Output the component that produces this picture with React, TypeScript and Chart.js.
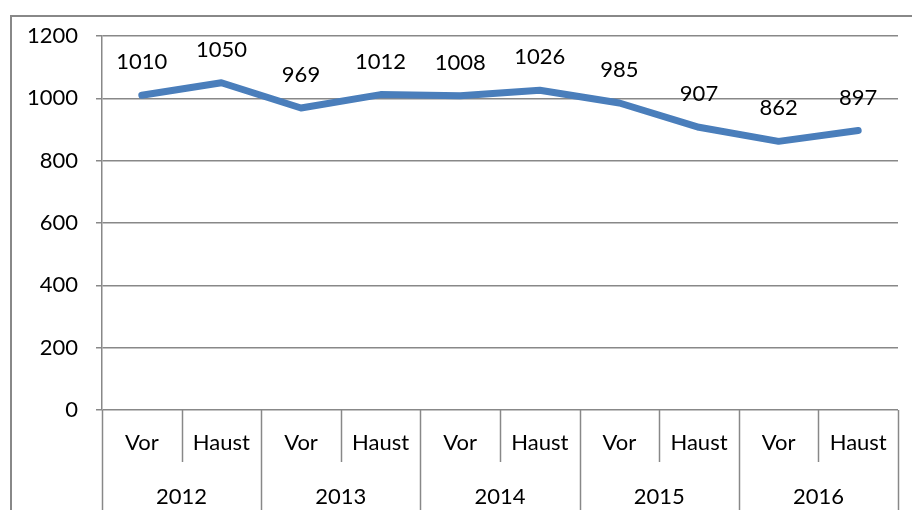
import React, { useEffect, useRef } from "react";
import { Chart, registerables } from "chart.js";

Chart.register(...registerables);

const categories = ["Vor", "Haust", "Vor", "Haust", "Vor", "Haust", "Vor", "Haust", "Vor", "Haust"];
const years = ["2012", "2013", "2014", "2015", "2016"];
const values = [1010, 1050, 969, 1012, 1008, 1026, 985, 907, 862, 897];
const yTicks = [0, 200, 400, 600, 800, 1000, 1200];

const FONT = "Lato";
const GRID = "#888888";

const framePlugin = {
  id: "frame",
  beforeDraw(chart: any) {
    const ctx = chart.ctx;
    ctx.save();
    ctx.strokeStyle = GRID;
    ctx.lineWidth = 2;
    ctx.beginPath();
    ctx.moveTo(11, chart.height);
    ctx.lineTo(11, 16);
    ctx.lineTo(chart.width, 16);
    ctx.stroke();
    ctx.restore();
  },
  afterDraw(chart: any) {
    const ctx = chart.ctx;
    const x = chart.scales.x;
    const area = chart.chartArea;
    const n = categories.length;
    const half = (x.getPixelForValue(1) - x.getPixelForValue(0)) / 2;
    ctx.save();
    ctx.strokeStyle = GRID;
    ctx.lineWidth = 1.5;
    for (let i = 0; i <= n; i++) {
      const px = i < n ? x.getPixelForValue(i) - half : x.getPixelForValue(n - 1) + half;
      const bottom = i % 2 === 0 ? chart.height : area.bottom + 52;
      ctx.beginPath();
      ctx.moveTo(Math.round(px) + 0.5, area.bottom);
      ctx.lineTo(Math.round(px) + 0.5, bottom);
      ctx.stroke();
    }
    ctx.restore();
  },
};

const labelPlugin = {
  id: "valueLabels",
  afterDatasetsDraw(chart: any) {
    const ctx = chart.ctx;
    const meta = chart.getDatasetMeta(0);
    ctx.save();
    ctx.fillStyle = "#000";
    ctx.font = `22px ${FONT}`;
    ctx.textAlign = "center";
    ctx.textBaseline = "middle";
    meta.data.forEach((pt: any, i: number) => {
      ctx.fillText(String(values[i]), pt.x, pt.y - 33);
    });
    ctx.restore();
  },
};

export default function App() {
  const ref = useRef<HTMLCanvasElement>(null);
  useEffect(() => {
    if (!ref.current) return;
    const chart = new Chart(ref.current, {
      type: "line",
      data: {
        labels: categories,
        datasets: [
          {
            data: values,
            borderColor: "#4a7ebb",
            borderWidth: 7,
            borderCapStyle: "round",
            borderJoinStyle: "round",
            pointRadius: 0,
            tension: 0,
            fill: false,
          },
        ],
      },
      options: {
        responsive: false,
        animation: false,
        layout: { padding: { left: 0, top: 36, right: 14, bottom: 0 } },
        plugins: { legend: { display: false }, tooltip: { enabled: false } },
        scales: {
          y: {
            min: 0,
            max: 1200,
            afterBuildTicks(scale: any) {
              scale.ticks = yTicks.map((v) => ({ value: v }));
            },
            afterFit(scale: any) {
              scale.width = 102;
            },
            grid: { color: GRID, lineWidth: 1.5, tickLength: 6, drawTicks: true },
            border: { display: true, color: GRID, width: 1.5 },
            ticks: {
              color: "#000",
              font: { family: FONT, size: 22 },
              padding: 18,
              callback: (v: any) => String(v),
            },
          },
          x: {
            type: "category",
            position: "bottom",
            offset: true,
            afterFit(scale: any) {
              scale.height = 52;
            },
            grid: { display: false, drawTicks: false },
            border: { display: false },
            ticks: { color: "#000", font: { family: FONT, size: 22 }, padding: 20, maxRotation: 0, autoSkip: false },
          },
          x2: {
            type: "category",
            position: "bottom",
            labels: years,
            offset: true,
            afterFit(scale: any) {
              scale.height = 48;
            },
            grid: { display: false, drawTicks: false },
            border: { display: false },
            ticks: { color: "#000", font: { family: FONT, size: 22 }, padding: 22, maxRotation: 0, autoSkip: false },
          },
        },
      },
      plugins: [framePlugin, labelPlugin],
    } as any);
    return () => chart.destroy();
  }, []);
  return (
    <div style={{ position: "fixed", left: 0, top: 0, width: 912, height: 510, background: "#fff" }}>
      <canvas ref={ref} width={912} height={510} />
    </div>
  );
}
